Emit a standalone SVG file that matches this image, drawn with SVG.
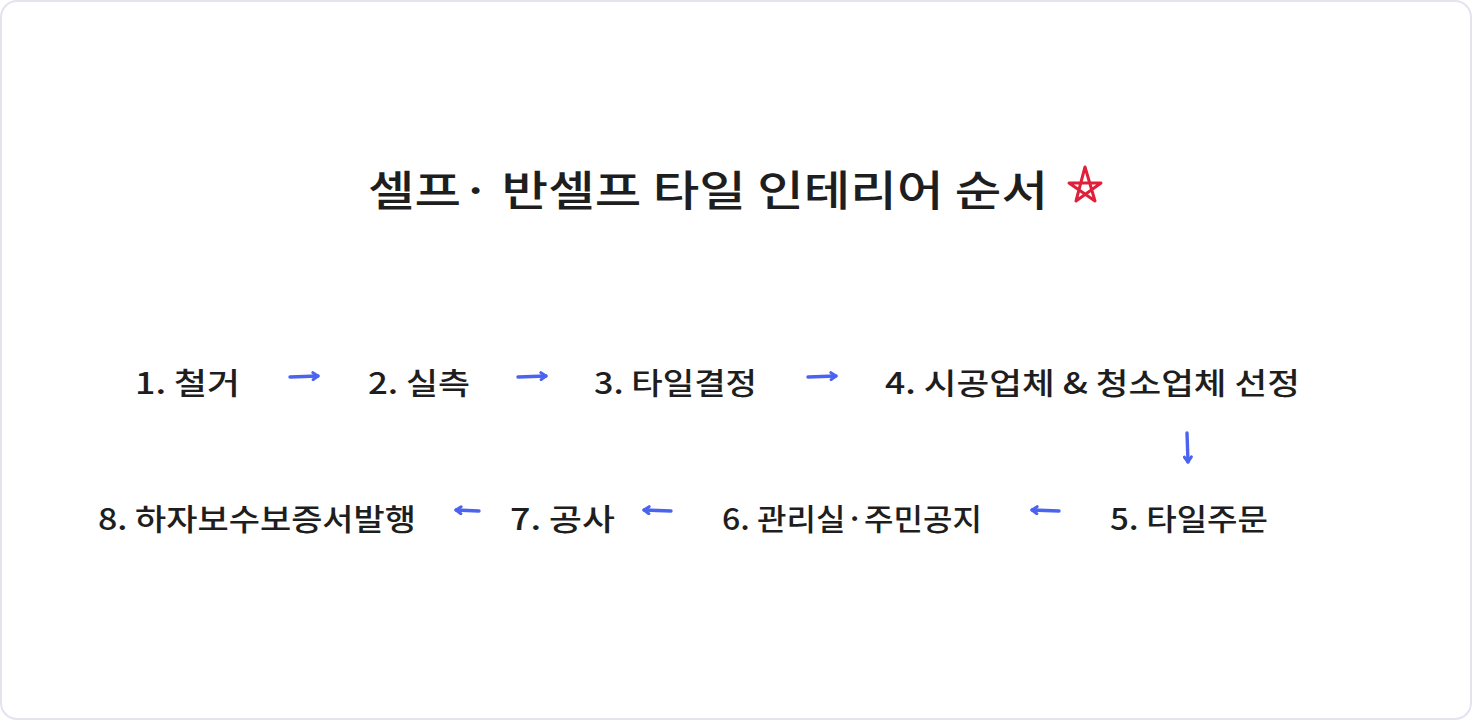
<svg xmlns="http://www.w3.org/2000/svg" width="1472" height="720" viewBox="0 0 1472 720">
<defs>
<style>
.t{font-family:"Noto Sans CJK KR","Noto Sans",sans-serif;fill:#1e1e1e;text-anchor:middle;font-weight:500}
.n{font-size:30px}
.c{stroke:#4a64f0;stroke-width:3.4;fill:none;stroke-linecap:round;stroke-linejoin:round}
</style>
<marker id="ah" viewBox="0 0 10 10" refX="8" refY="5" markerWidth="10" markerHeight="10" markerUnits="userSpaceOnUse" orient="auto">
<path d="M3,1.5 L8,5 L3,8.5" fill="none" stroke="#4a64f0" stroke-width="3" stroke-linecap="round" stroke-linejoin="round"/>
</marker>
</defs>
<rect x="1" y="1" width="1470" height="718" rx="16" fill="#ffffff" stroke="#e3e4f0" stroke-width="2"/>
<g id="title">
<text class="t" x="708" y="206" font-size="42" textLength="680" lengthAdjust="spacingAndGlyphs">셀프· 반셀프 타일 인테리어 순서</text>
<path d="M1085,167 L1076,201 L1101,183 L1069,183 L1095,201 Z" fill="none" stroke="#e0203a" stroke-width="3" stroke-linejoin="round"/>
</g>
<g id="n1"><text class="t n" x="187.5" y="394" textLength="105" lengthAdjust="spacingAndGlyphs">1. 철거</text></g>
<g id="n2"><text class="t n" x="419" y="394" textLength="102" lengthAdjust="spacingAndGlyphs">2. 실측</text></g>
<g id="n3"><text class="t n" x="675.5" y="394" textLength="163" lengthAdjust="spacingAndGlyphs">3. 타일결정</text></g>
<g id="n4"><text class="t n" x="1092.5" y="394" textLength="415" lengthAdjust="spacingAndGlyphs">4. 시공업체 &amp; 청소업체 선정</text></g>
<g id="n5"><text class="t n" x="1189" y="530" textLength="158" lengthAdjust="spacingAndGlyphs">5. 타일주문</text></g>
<g id="n6"><text class="t n" x="852" y="530" textLength="260" lengthAdjust="spacingAndGlyphs">6. 관리실·주민공지</text></g>
<g id="n7"><text class="t n" x="562.5" y="530" textLength="105" lengthAdjust="spacingAndGlyphs">7. 공사</text></g>
<g id="n8"><text class="t n" x="257" y="530" textLength="318" lengthAdjust="spacingAndGlyphs">8. 하자보수보증서발행</text></g>
<g id="connectors">
<path class="c" d="M290,377 L318,376" marker-end="url(#ah)"/>
<path class="c" d="M518,377 L546,376" marker-end="url(#ah)"/>
<path class="c" d="M808,377 L836,376" marker-end="url(#ah)"/>
<path class="c" d="M1187,433 L1188,462" marker-end="url(#ah)"/>
<path class="c" d="M1059,511 L1032,510" marker-end="url(#ah)"/>
<path class="c" d="M671,511 L644,510" marker-end="url(#ah)"/>
<path class="c" d="M479,511 L456,510" marker-end="url(#ah)"/>
</g>
</svg>
